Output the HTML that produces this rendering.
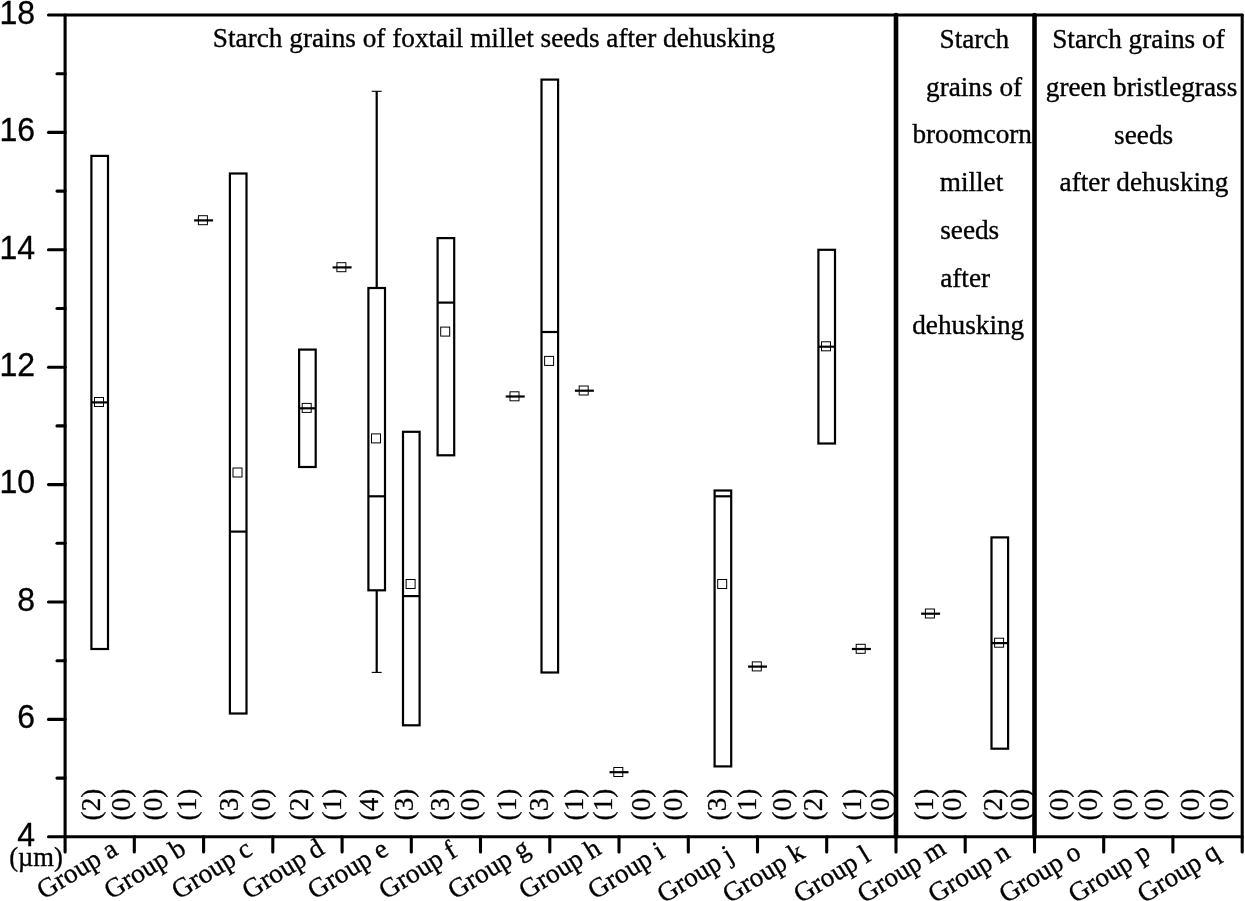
<!DOCTYPE html>
<html lang="en"><head><meta charset="utf-8"><title>Starch grain size box plot</title>
<style>html,body{margin:0;padding:0;background:#fff;overflow:hidden;}svg{display:block;}.s{font-family:"Liberation Serif", serif;fill:#000;stroke:#000;stroke-width:0.35px;}.a{font-family:"Liberation Sans", sans-serif;fill:#000;stroke:#000;stroke-width:0.3px;}</style>
</head><body>
<svg width="1245" height="901" viewBox="0 0 1245 901">
<rect x="0" y="0" width="1245" height="901" fill="#fff"/>
<g stroke="#000" stroke-width="3.1" fill="none" stroke-linecap="round">
<line x1="48.5" y1="15.0" x2="1242.2" y2="15.0"/>
<line x1="48.5" y1="836.8" x2="1242.2" y2="836.8"/>
<line x1="65.1" y1="15.0" x2="65.1" y2="852.0"/>
<line x1="1242.2" y1="15.0" x2="1242.2" y2="852.0"/>
<line x1="48.5" y1="719.4" x2="65.1" y2="719.4"/>
<line x1="48.5" y1="602.0" x2="65.1" y2="602.0"/>
<line x1="48.5" y1="484.6" x2="65.1" y2="484.6"/>
<line x1="48.5" y1="367.2" x2="65.1" y2="367.2"/>
<line x1="48.5" y1="249.8" x2="65.1" y2="249.8"/>
<line x1="48.5" y1="132.4" x2="65.1" y2="132.4"/>
<line x1="57" y1="778.1" x2="65.1" y2="778.1"/>
<line x1="57" y1="660.7" x2="65.1" y2="660.7"/>
<line x1="57" y1="543.3" x2="65.1" y2="543.3"/>
<line x1="57" y1="425.9" x2="65.1" y2="425.9"/>
<line x1="57" y1="308.5" x2="65.1" y2="308.5"/>
<line x1="57" y1="191.1" x2="65.1" y2="191.1"/>
<line x1="57" y1="73.7" x2="65.1" y2="73.7"/>
<line x1="134.3" y1="836.8" x2="134.3" y2="852"/>
<line x1="203.6" y1="836.8" x2="203.6" y2="852"/>
<line x1="272.8" y1="836.8" x2="272.8" y2="852"/>
<line x1="342.1" y1="836.8" x2="342.1" y2="852"/>
<line x1="411.3" y1="836.8" x2="411.3" y2="852"/>
<line x1="480.5" y1="836.8" x2="480.5" y2="852"/>
<line x1="549.8" y1="836.8" x2="549.8" y2="852"/>
<line x1="619.0" y1="836.8" x2="619.0" y2="852"/>
<line x1="688.3" y1="836.8" x2="688.3" y2="852"/>
<line x1="757.5" y1="836.8" x2="757.5" y2="852"/>
<line x1="826.7" y1="836.8" x2="826.7" y2="852"/>
<line x1="896.0" y1="836.8" x2="896.0" y2="852"/>
<line x1="965.2" y1="836.8" x2="965.2" y2="852"/>
<line x1="1034.5" y1="836.8" x2="1034.5" y2="852"/>
<line x1="1103.7" y1="836.8" x2="1103.7" y2="852"/>
<line x1="1172.9" y1="836.8" x2="1172.9" y2="852"/>
</g>
<g stroke="#000" stroke-width="4.6" fill="none" stroke-linecap="round">
<line x1="896.0" y1="15.0" x2="896.0" y2="836.8"/>
<line x1="1034.5" y1="15.0" x2="1034.5" y2="836.8"/>
</g>
<g class="a" font-size="32" text-anchor="end">
<text transform="translate(35,845.5) scale(1,1.04)" x="0" y="0">4</text>
<text transform="translate(35,728.1) scale(1,1.04)" x="0" y="0">6</text>
<text transform="translate(35,610.7) scale(1,1.04)" x="0" y="0">8</text>
<text transform="translate(35,493.3) scale(1,1.04)" x="0" y="0">10</text>
<text transform="translate(35,375.9) scale(1,1.04)" x="0" y="0">12</text>
<text transform="translate(35,258.5) scale(1,1.04)" x="0" y="0">14</text>
<text transform="translate(35,141.1) scale(1,1.04)" x="0" y="0">16</text>
<text transform="translate(35,23.7) scale(1,1.04)" x="0" y="0">18</text>
</g>
<text class="s" font-size="26.6" x="9.2" y="866">(µm)</text>
<g stroke="#000" stroke-width="2.2" fill="none">
<rect x="91.4" y="155.9" width="16.6" height="493.1"/>
<line x1="91.4" y1="402.4" x2="108.0" y2="402.4"/>
<rect x="229.9" y="173.5" width="16.6" height="540.0"/>
<line x1="229.9" y1="531.6" x2="246.5" y2="531.6"/>
<rect x="299.1" y="349.6" width="16.6" height="117.4"/>
<line x1="299.1" y1="408.3" x2="315.7" y2="408.3"/>
<line x1="376.7" y1="288.0" x2="376.7" y2="91.3"/>
<line x1="376.7" y1="590.3" x2="376.7" y2="672.4"/>
<line x1="371.7" y1="91.3" x2="381.7" y2="91.3" stroke-width="1.1"/>
<line x1="371.7" y1="672.4" x2="381.7" y2="672.4" stroke-width="1.1"/>
<rect x="368.4" y="288.0" width="16.6" height="302.3"/>
<line x1="368.4" y1="496.3" x2="385.0" y2="496.3"/>
<rect x="403.0" y="431.8" width="16.6" height="293.5"/>
<line x1="403.0" y1="596.1" x2="419.6" y2="596.1"/>
<rect x="437.6" y="238.1" width="16.6" height="217.2"/>
<line x1="437.6" y1="302.6" x2="454.2" y2="302.6"/>
<rect x="541.5" y="79.6" width="16.6" height="592.9"/>
<line x1="541.5" y1="332.0" x2="558.1" y2="332.0"/>
<rect x="714.6" y="490.5" width="16.6" height="275.9"/>
<line x1="714.6" y1="496.3" x2="731.2" y2="496.3"/>
<rect x="818.4" y="249.8" width="16.6" height="193.7"/>
<line x1="818.4" y1="346.7" x2="835.0" y2="346.7"/>
<rect x="991.5" y="537.4" width="16.6" height="211.3"/>
<line x1="991.5" y1="643.1" x2="1008.1" y2="643.1"/>
<line x1="194.1" y1="220.4" x2="213.1" y2="220.4"/>
<line x1="332.6" y1="267.4" x2="351.6" y2="267.4"/>
<line x1="505.7" y1="396.5" x2="524.7" y2="396.5"/>
<line x1="574.9" y1="390.7" x2="593.9" y2="390.7"/>
<line x1="609.5" y1="772.2" x2="628.5" y2="772.2"/>
<line x1="748.0" y1="666.6" x2="767.0" y2="666.6"/>
<line x1="851.9" y1="649.0" x2="870.9" y2="649.0"/>
<line x1="921.1" y1="613.7" x2="940.1" y2="613.7"/>
</g>
<g stroke="#000" stroke-width="1" fill="none">
<rect x="94.5" y="397.5" width="9" height="9"/>
<rect x="233.0" y="468.0" width="9" height="9"/>
<rect x="302.2" y="403.4" width="9" height="9"/>
<rect x="371.5" y="433.9" width="9" height="9"/>
<rect x="406.1" y="579.5" width="9" height="9"/>
<rect x="440.7" y="327.1" width="9" height="9"/>
<rect x="544.6" y="356.4" width="9" height="9"/>
<rect x="717.7" y="579.5" width="9" height="9"/>
<rect x="821.5" y="341.8" width="9" height="9"/>
<rect x="994.6" y="638.2" width="9" height="9"/>
<rect x="198.4" y="215.7" width="9" height="9"/>
<rect x="336.9" y="262.7" width="9" height="9"/>
<rect x="510.0" y="391.8" width="9" height="9"/>
<rect x="579.2" y="386.0" width="9" height="9"/>
<rect x="613.8" y="767.5" width="9" height="9"/>
<rect x="752.3" y="661.9" width="9" height="9"/>
<rect x="856.2" y="644.3" width="9" height="9"/>
<rect x="925.4" y="609.0" width="9" height="9"/>
</g>
<g class="s" font-size="27.25" text-anchor="middle" style="stroke-width:0.25px">
<text transform="translate(93.1,804.5) rotate(-90)" x="0" y="6.6">(2)</text>
<text transform="translate(123.3,804.5) rotate(-90)" x="0" y="6.6">(0)</text>
<text transform="translate(155.5,804.5) rotate(-90)" x="0" y="6.6">(0)</text>
<text transform="translate(189.5,804.5) rotate(-90)" x="0" y="6.6">(1)</text>
<text transform="translate(231.7,804.5) rotate(-90)" x="0" y="6.6">(3)</text>
<text transform="translate(263.0,804.5) rotate(-90)" x="0" y="6.6">(0)</text>
<text transform="translate(301.6,804.5) rotate(-90)" x="0" y="6.6">(2)</text>
<text transform="translate(334.1,804.5) rotate(-90)" x="0" y="6.6">(1)</text>
<text transform="translate(371.1,804.5) rotate(-90)" x="0" y="6.6">(4)</text>
<text transform="translate(406.6,804.5) rotate(-90)" x="0" y="6.6">(3)</text>
<text transform="translate(442.8,804.5) rotate(-90)" x="0" y="6.6">(3)</text>
<text transform="translate(472.8,804.5) rotate(-90)" x="0" y="6.6">(0)</text>
<text transform="translate(509.6,804.5) rotate(-90)" x="0" y="6.6">(1)</text>
<text transform="translate(541.0,804.5) rotate(-90)" x="0" y="6.6">(3)</text>
<text transform="translate(575.9,804.5) rotate(-90)" x="0" y="6.6">(1)</text>
<text transform="translate(605.3,804.5) rotate(-90)" x="0" y="6.6">(1)</text>
<text transform="translate(643.0,804.5) rotate(-90)" x="0" y="6.6">(0)</text>
<text transform="translate(675.3,804.5) rotate(-90)" x="0" y="6.6">(0)</text>
<text transform="translate(718.9,804.5) rotate(-90)" x="0" y="6.6">(3)</text>
<text transform="translate(749.5,804.5) rotate(-90)" x="0" y="6.6">(1)</text>
<text transform="translate(784.0,804.5) rotate(-90)" x="0" y="6.6">(0)</text>
<text transform="translate(815.8,804.5) rotate(-90)" x="0" y="6.6">(2)</text>
<text transform="translate(854.3,804.5) rotate(-90)" x="0" y="6.6">(1)</text>
<text transform="translate(882.5,804.5) rotate(-90)" x="0" y="6.6">(0)</text>
<text transform="translate(926.3,804.5) rotate(-90)" x="0" y="6.6">(1)</text>
<text transform="translate(954.0,804.5) rotate(-90)" x="0" y="6.6">(0)</text>
<text transform="translate(994.9,804.5) rotate(-90)" x="0" y="6.6">(2)</text>
<text transform="translate(1021.9,804.5) rotate(-90)" x="0" y="6.6">(0)</text>
<text transform="translate(1061.4,804.5) rotate(-90)" x="0" y="6.6">(0)</text>
<text transform="translate(1090.8,804.5) rotate(-90)" x="0" y="6.6">(0)</text>
<text transform="translate(1125.1,804.5) rotate(-90)" x="0" y="6.6">(0)</text>
<text transform="translate(1156.4,804.5) rotate(-90)" x="0" y="6.6">(0)</text>
<text transform="translate(1192.3,804.5) rotate(-90)" x="0" y="6.6">(0)</text>
<text transform="translate(1221.0,804.5) rotate(-90)" x="0" y="6.6">(0)</text>
</g>
<g class="s" font-size="27.25">
<text transform="translate(43.8,899.9) rotate(-31.5)" x="0" y="0">Group a</text>
<text transform="translate(110.9,899.9) rotate(-31.5)" x="0" y="0">Group b</text>
<text transform="translate(178.4,899.9) rotate(-31.5)" x="0" y="0">Group c</text>
<text transform="translate(249.1,899.9) rotate(-31.5)" x="0" y="0">Group d</text>
<text transform="translate(314.6,899.9) rotate(-31.5)" x="0" y="0">Group e</text>
<text transform="translate(385.8,899.9) rotate(-31.5)" x="0" y="0">Group f</text>
<text transform="translate(454.8,899.9) rotate(-31.5)" x="0" y="0">Group g</text>
<text transform="translate(525.8,899.9) rotate(-31.5)" x="0" y="0">Group h</text>
<text transform="translate(594.8,899.9) rotate(-31.5)" x="0" y="0">Group i</text>
<text transform="translate(663.9,903.8) rotate(-31.5)" x="0" y="0">Group j</text>
<text transform="translate(729.5,903.8) rotate(-31.5)" x="0" y="0">Group k</text>
<text transform="translate(800.5,903.8) rotate(-31.5)" x="0" y="0">Group l</text>
<text transform="translate(864.3,903.8) rotate(-31.5)" x="0" y="0">Group m</text>
<text transform="translate(934.9,903.8) rotate(-31.5)" x="0" y="0">Group n</text>
<text transform="translate(1005.9,903.8) rotate(-31.5)" x="0" y="0">Group o</text>
<text transform="translate(1075.2,903.8) rotate(-31.5)" x="0" y="0">Group p</text>
<text transform="translate(1144.2,903.8) rotate(-31.5)" x="0" y="0">Group q</text>
</g>
<g class="s" font-size="27.25">
<text x="494" y="47.3" text-anchor="middle">Starch grains of foxtail millet seeds after dehusking</text>
<text x="939.5" y="48.0">Starch</text>
<text x="926.0" y="95.7">grains of</text>
<text x="912.4" y="143.4">broomcorn</text>
<text x="939.7" y="191.1">millet</text>
<text x="940.2" y="238.8">seeds</text>
<text x="940.2" y="286.5">after</text>
<text x="912.2" y="334.2">dehusking</text>
<text x="1052.2" y="48.4">Starch grains of</text>
<text x="1045.8" y="96.0">green bristlegrass</text>
<text x="1114.1" y="143.6">seeds</text>
<text x="1059.6" y="191.2">after dehusking</text>
</g>
</svg>
</body></html>
